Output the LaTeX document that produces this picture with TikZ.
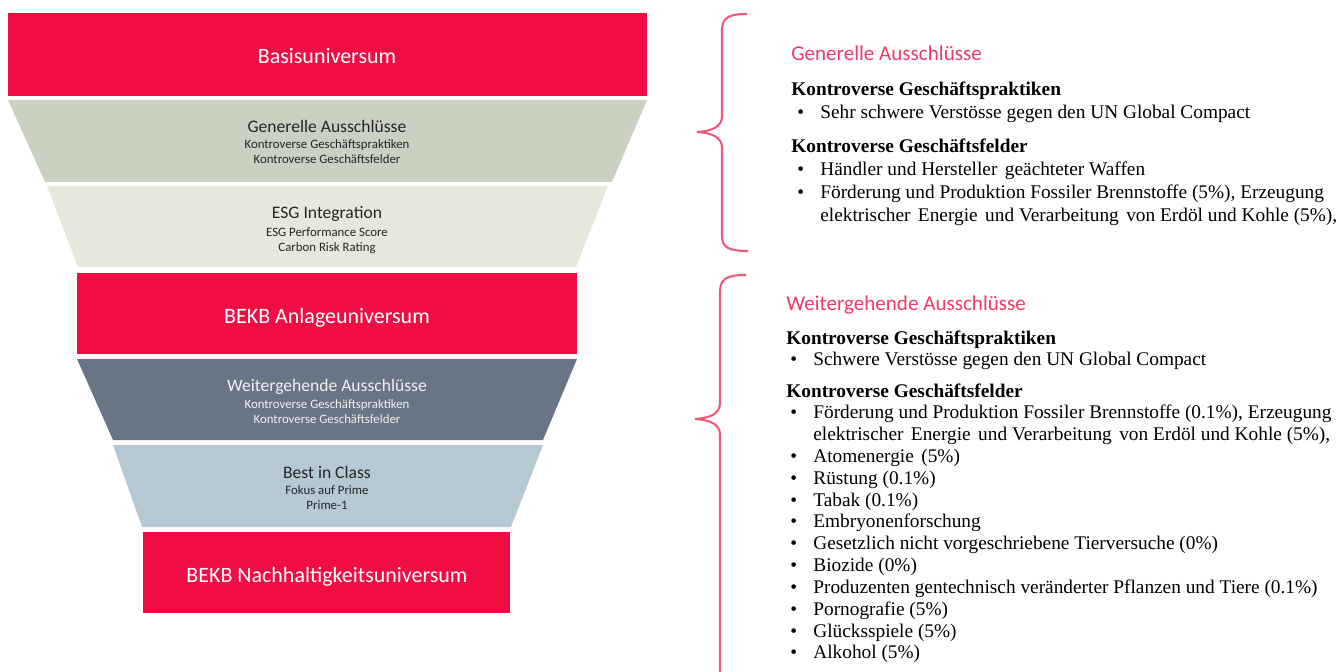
\documentclass[tikz,border=0pt]{standalone}
\usepackage{fontspec}
\setmainfont{Liberation Serif}
\newfontfamily\calibri{Carlito}

\definecolor{bekbred}{HTML}{F00D43}
\definecolor{exclgreen}{HTML}{CBD1C1}
\definecolor{esggreen}{HTML}{E4E9DB}
\definecolor{slategrey}{HTML}{687585}
\definecolor{paleblue}{HTML}{B6C8D4}
\definecolor{bracepink}{HTML}{EF5A7C}
\definecolor{headred}{HTML}{F2386A}

\tikzset{
  bigtitle/.style={anchor=base, inner sep=0, text=white, font=\calibri\fontsize{12.5}{15}\selectfont},
  midtitle/.style={anchor=base, inner sep=0, text=black!85, font=\calibri\fontsize{10}{12}\selectfont},
  subline/.style={anchor=base, inner sep=0, text=black!85, font=\calibri\fontsize{7.3}{9}\selectfont},
  heading/.style={anchor=base west, inner sep=0, text=headred, font=\calibri\fontsize{12}{14}\selectfont},
  group/.style={anchor=base west, inner sep=0, font=\bfseries\fontsize{11}{13}\selectfont},
  entry/.style={anchor=base west, inner sep=0, font=\fontsize{11}{13}\selectfont},
  brace/.style={draw=bracepink, line width=1.2pt}
}
\newcommand{\wsp}{\ \hspace{1.5pt}}

\begin{document}
\begin{tikzpicture}[x=0.02cm,y=-0.02cm]
\useasboundingbox (0,0) rectangle (1342,672);

% funnel
\fill [bekbred] (8,13) rectangle (647,96);
\fill [exclgreen] (8,100) -- (647,100) -- (612,182) -- (45,182) -- cycle;
\fill [esggreen] (47,186) -- (608,186) -- (576,267) -- (78,267) -- cycle;
\fill [bekbred] (77,273) rectangle (577,354);
\fill [slategrey] (77,359) -- (577,359) -- (543,440) -- (113,440) -- cycle;
\fill [paleblue] (113,445) -- (543,445) -- (511,527) -- (142,527) -- cycle;
\fill [bekbred] (143,532) rectangle (510,613);

\node[bigtitle] (basis) at (327,64) {Basisuniversum};
\node[midtitle] (gen) at (327,133) {Generelle Ausschlüsse};
\node[subline] (gen1) at (327,149) {Kontroverse Geschäftspraktiken};
\node[subline] (gen2) at (327,164) {Kontroverse Geschäftsfelder};
\node[midtitle] (esg) at (327,219) {ESG Integration};
\node[subline] (esg1) at (327,236) {ESG Performance Score};
\node[subline] (esg2) at (327,252) {Carbon Risk Rating};
\node[bigtitle] (anlage) at (327,323) {BEKB Anlageuniversum};
\node[midtitle, text=white!94!black] (weiter) at (327,391) {Weitergehende Ausschlüsse};
\node[subline, text=white!94!black] (weiter1) at (327,408) {Kontroverse Geschäftspraktiken};
\node[subline, text=white!94!black] (weiter2) at (327,423) {Kontroverse Geschäftsfelder};
\node[midtitle] (best) at (327,478) {Best in Class};
\node[subline] (best1) at (327,494) {Fokus auf Prime};
\node[subline] (best2) at (327,509) {Prime-1};
\node[bigtitle] (nachh) at (327,582) {BEKB Nachhaltigkeitsuniversum};

% braces
\draw [brace] (747,14) .. controls (730,14) and (722,17) .. (722,30) -- (722,116)
  .. controls (722,127) and (712,131) .. (697,132)
  .. controls (712,133) and (722,137) .. (722,148) -- (722,236)
  .. controls (722,248) and (730,251) .. (748,251);
\draw [brace] (746,275) .. controls (728,275) and (720,278) .. (720,292) -- (720,403)
  .. controls (720,414) and (710,418) .. (695,419)
  .. controls (710,420) and (720,424) .. (720,435) -- (720,690);

% Generelle Ausschluesse
\node[heading] (h1) at (791,61) {Generelle Ausschlüsse};
\node[group] (g1a) at (791,96) {Kontroverse Geschäftspraktiken};
\node[entry] (d1a) at (797,119) {•};
\node[entry] (t1a) at (820,119) {Sehr schwere Verstösse gegen den UN Global Compact};
\node[group] (g1b) at (791,153) {Kontroverse Geschäftsfelder};
\node[entry] (d1b) at (797,176) {•};
\node[entry] (t1b) at (820,176) {Händler und Hersteller\wsp geächteter Waffen};
\node[entry] (d1c) at (797,199) {•};
\node[entry] (t1c) at (820,199) {Förderung und Produktion Fossiler Brennstoffe (5\%), Erzeugung};
\node[entry] (t1d) at (820,222) {elektrischer\wsp Energie\wsp und Verarbeitung\wsp von Erdöl und Kohle (5\%),};

% Weitergehende Ausschluesse
\node[heading] (h2) at (786,310) {Weitergehende Ausschlüsse};
\node[group] (g2a) at (786,344) {Kontroverse Geschäftspraktiken};
\node[entry] (d2a) at (790,365) {•};
\node[entry] (t2a) at (813,365) {Schwere Verstösse gegen den UN Global Compact};
\node[group] (g2b) at (786,397) {Kontroverse Geschäftsfelder};
\node[entry] (d2b) at (790,418.5) {•};
\node[entry] (t2b) at (813,418.5) {Förderung und Produktion Fossiler Brennstoffe (0.1\%), Erzeugung};
\node[entry] (t2c) at (813,440) {elektrischer\wsp Energie\wsp und Verarbeitung\wsp von Erdöl und Kohle (5\%),};
\node[entry] (d2d) at (790,462) {•};
\node[entry] (t2d) at (813,462) {Atomenergie\wsp (5\%)};
\node[entry] (d2e) at (790,484) {•};
\node[entry] (t2e) at (813,484) {Rüstung (0.1\%)};
\node[entry] (d2f) at (790,506) {•};
\node[entry] (t2f) at (813,506) {Tabak (0.1\%)};
\node[entry] (d2g) at (790,527.5) {•};
\node[entry] (t2g) at (813,527.5) {Embryonenforschung};
\node[entry] (d2h) at (790,549.5) {•};
\node[entry] (t2h) at (813,549.5) {Gesetzlich nicht vorgeschriebene Tierversuche (0\%)};
\node[entry] (d2i) at (790,571.5) {•};
\node[entry] (t2i) at (813,571.5) {Biozide (0\%)};
\node[entry] (d2j) at (790,593.5) {•};
\node[entry] (t2j) at (813,593.5) {Produzenten gentechnisch veränderter Pflanzen und Tiere (0.1\%)};
\node[entry] (d2k) at (790,615) {•};
\node[entry] (t2k) at (813,615) {Pornografie (5\%)};
\node[entry] (d2l) at (790,637) {•};
\node[entry] (t2l) at (813,637) {Glücksspiele (5\%)};
\node[entry] (d2m) at (790,658.5) {•};
\node[entry] (t2m) at (813,658.5) {Alkohol (5\%)};
\end{tikzpicture}
\end{document}
